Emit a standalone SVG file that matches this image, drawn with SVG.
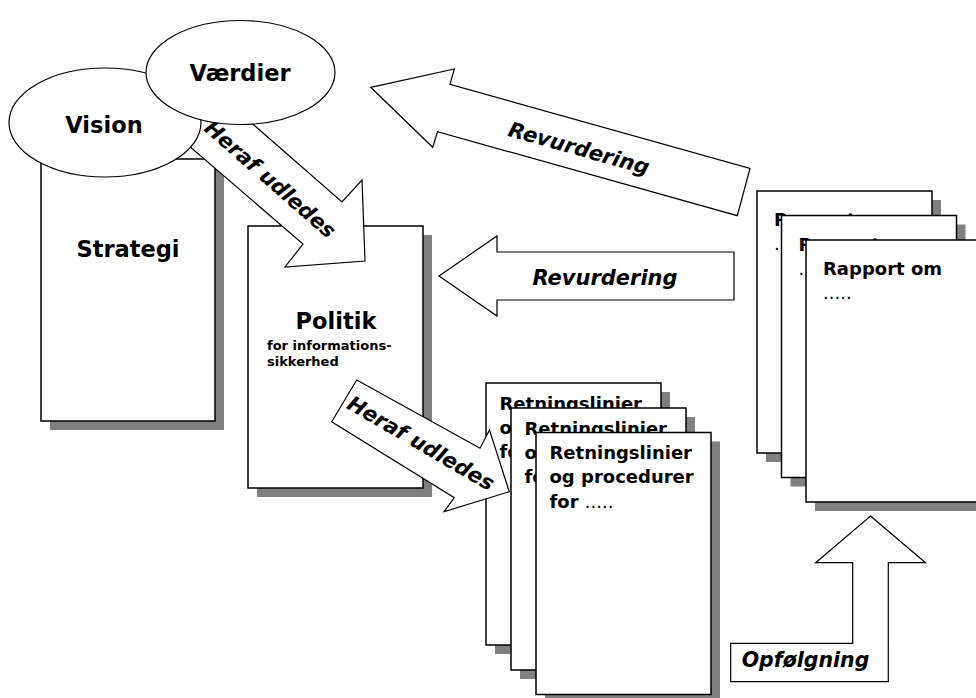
<svg xmlns="http://www.w3.org/2000/svg" width="976" height="698" viewBox="0 0 976 698">
<style>
  .page { fill: #ffffff; stroke: #000000; stroke-width: 1.5; }
  .shadow { fill: #808080; stroke: none; }
  .arrow { fill: #ffffff; stroke: #000000; stroke-width: 1.2; stroke-linejoin: miter; }
  .ell { fill: #ffffff; stroke: #000000; stroke-width: 1.2; }
  text { font-family: "DejaVu Sans", "Liberation Sans", sans-serif; font-weight: bold; fill: #000000; }
  .title { font-size: 22.5px; text-anchor: middle; }
  .small { font-size: 13px; }
  .doc { font-size: 18px; }
  .dots { font-weight: normal; }
  .lbl { font-size: 21px; font-style: italic; text-anchor: middle; }
</style>
<rect width="976" height="698" fill="#ffffff"/>

<g id="strategi">
  <rect class="shadow" x="50" y="168" width="174" height="262"/>
  <rect class="page" x="41" y="159" width="174" height="262"/>
  <text class="title" x="128" y="257">Strategi</text>
</g>

<g id="politik">
  <rect class="shadow" x="257" y="235" width="175" height="262"/>
  <rect class="page" x="248" y="226" width="175" height="262"/>
  <text class="title" x="336" y="329">Politik</text>
  <text class="small" x="267" y="350">for informations-</text>
  <text class="small" x="267" y="366">sikkerhed</text>
</g>

<g id="retningslinier-1">
  <rect class="shadow" x="495" y="392" width="175" height="262"/>
  <rect class="page" x="486" y="383" width="175" height="262"/>
  <text class="doc" x="499.5" y="409.5">Retningslinier</text>
  <text class="doc" x="499.5" y="433.5">og procedurer</text>
  <text class="doc" x="499.5" y="458">for <tspan class="dots">.....</tspan></text>
</g>
<g id="retningslinier-2">
  <rect class="shadow" x="520" y="417" width="175" height="262"/>
  <rect class="page" x="511" y="408" width="175" height="262"/>
  <text class="doc" x="524.5" y="434.5">Retningslinier</text>
  <text class="doc" x="524.5" y="458.5">og procedurer</text>
  <text class="doc" x="524.5" y="483">for <tspan class="dots">.....</tspan></text>
</g>
<g id="retningslinier-3">
  <rect class="shadow" x="545" y="441.5" width="175" height="262"/>
  <rect class="page" x="536" y="432.5" width="175" height="262"/>
  <text class="doc" x="549.5" y="459">Retningslinier</text>
  <text class="doc" x="549.5" y="483">og procedurer</text>
  <text class="doc" x="549.5" y="507.5">for <tspan class="dots">.....</tspan></text>
</g>

<g id="rapport-1">
  <rect class="shadow" x="766" y="200" width="175" height="262"/>
  <rect class="page" x="757" y="191" width="175" height="262"/>
  <text class="doc" x="774" y="226">Rapport om</text>
  <text class="doc dots" x="774" y="250">.....</text>
</g>
<g id="rapport-2">
  <rect class="shadow" x="790.5" y="224.5" width="175" height="262"/>
  <rect class="page" x="781.5" y="215.5" width="175" height="262"/>
  <text class="doc" x="798.5" y="250.5">Rapport om</text>
  <text class="doc dots" x="798.5" y="274.5">.....</text>
</g>
<g id="rapport-3">
  <rect class="shadow" x="815" y="249" width="175" height="262"/>
  <rect class="page" x="806" y="240" width="175" height="262"/>
  <text class="doc" x="823" y="275">Rapport om</text>
  <text class="doc dots" x="823" y="299">.....</text>
</g>

<g id="connectors">
  <g id="arrow-heraf-1">
    <polygon class="arrow" points="223,98 342,202 362,180 365,261 285,267 303,244 160,121"/>
    <text class="lbl" transform="translate(270.5,179) rotate(41.2)" x="0" y="7.5">Heraf udledes</text>
  </g>
  <g id="arrow-heraf-2">
    <polygon class="arrow" points="356.7,380 480,448.3 489.5,430 509.3,491.7 444,511.7 454.3,497.7 331.7,421.7"/>
    <text class="lbl" transform="translate(421,443) rotate(30.2)" x="0" y="7.5">Heraf udledes</text>
  </g>
  <g id="arrow-revurdering-1">
    <polygon class="arrow" points="370.7,87.3 454.3,69 450,84.3 750,168.3 737.3,215.7 437.5,131.7 432.7,147.3"/>
    <text class="lbl" transform="translate(579,148) rotate(15.6)" x="0" y="7.5">Revurdering</text>
  </g>
  <g id="arrow-revurdering-2">
    <polygon class="arrow" points="439,276 497,236 497,252 734,252 734,300 497,300 497,316"/>
    <text class="lbl" x="605" y="285">Revurdering</text>
  </g>
  <g id="arrow-opfoelgning">
    <polygon class="arrow" points="870.5,516 925.5,562.7 888.3,562.7 888.3,681.7 730.7,681.7 730.7,643.3 852.7,643.3 852.7,562.7 815.7,562.7"/>
    <text class="lbl" x="805.5" y="667" style="font-size:20.5px">Opfølgning</text>
  </g>
</g>

<g id="vision">
  <ellipse class="ell" cx="105" cy="122.5" rx="96" ry="54.5"/>
  <text class="title" x="104" y="133">Vision</text>
</g>
<g id="vaerdier">
  <ellipse class="ell" cx="240.5" cy="72.5" rx="94.5" ry="52"/>
  <text class="title" x="240" y="81">Værdier</text>
</g>
</svg>
